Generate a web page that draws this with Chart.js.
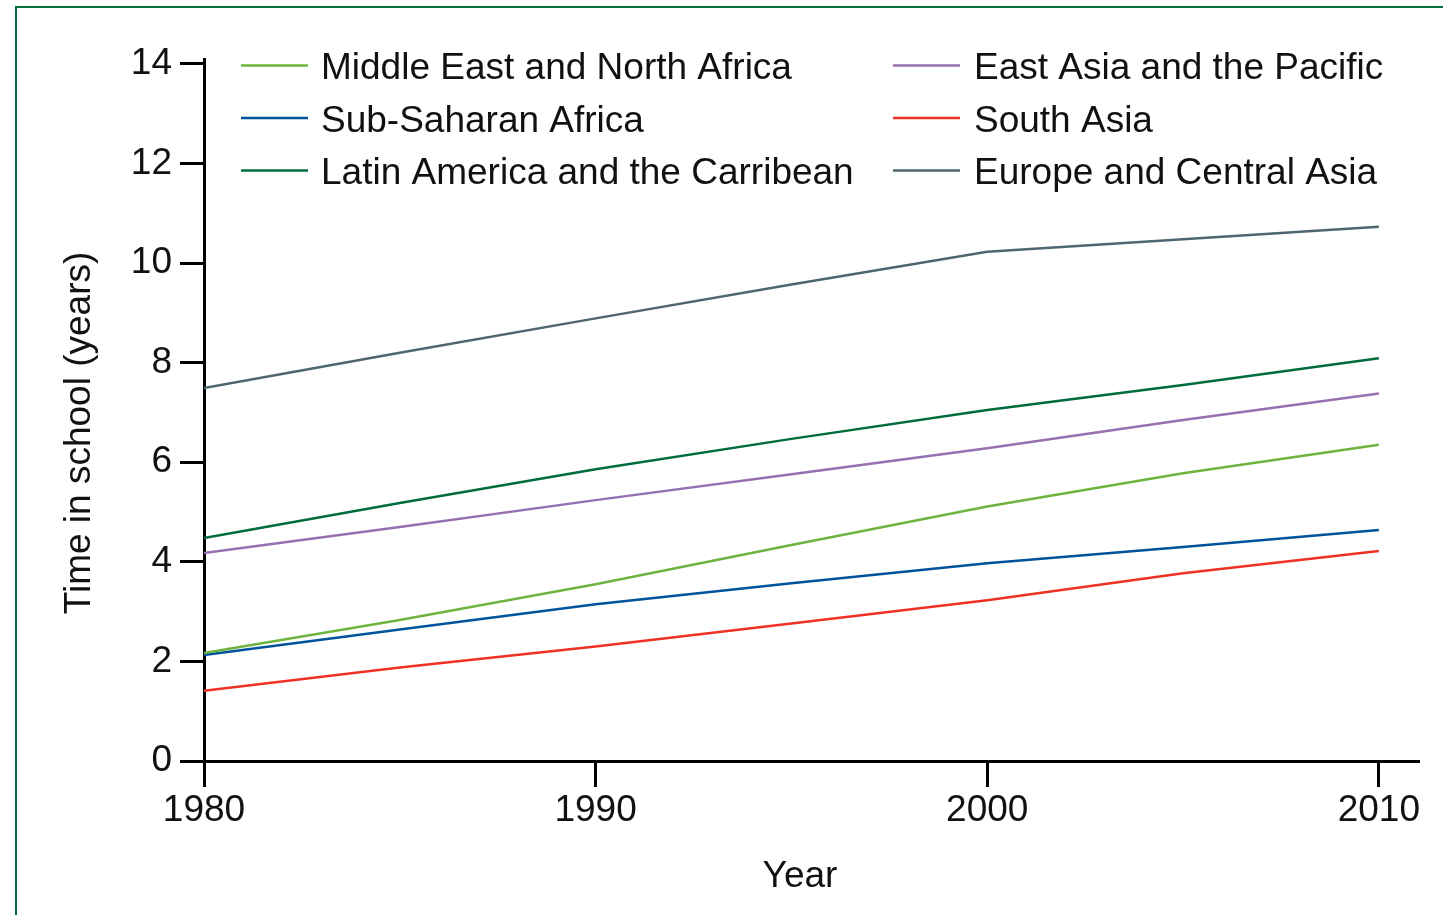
<!DOCTYPE html>
<html>
<head>
<meta charset="utf-8">
<title>Time in school by region</title>
<script src="https://cdn.jsdelivr.net/npm/chart.js@4.4.1/dist/chart.umd.min.js"></script>
<style>
  html, body { margin: 0; padding: 0; background: #ffffff; }
  #wrap { width: 1443px; height: 915px; position: relative; }
  canvas { display: block; }
</style>
</head>
<body>
<div id="wrap"><canvas id="chart" width="1443" height="915"></canvas></div>
<script>
// Average years of schooling by world region, 1980-2010
const years = [1980, 1985, 1990, 1995, 2000, 2005, 2010];
const regionNames = [
  'Middle East and North Africa',
  'Sub-Saharan Africa',
  'Latin America and the Carribean',
  'East Asia and the Pacific',
  'South Asia',
  'Europe and Central Asia'
];
const middleEastNorthAfrica = [2.17, 2.83, 3.55, 4.34, 5.11, 5.78, 6.35];
const subSaharanAfrica      = [2.13, 2.64, 3.15, 3.57, 3.97, 4.30, 4.64];
const latinAmerica          = [4.48, 5.18, 5.86, 6.47, 7.05, 7.55, 8.09];
const eastAsiaPacific       = [4.18, 4.70, 5.24, 5.76, 6.28, 6.85, 7.38];
const southAsia             = [1.41, 1.88, 2.30, 2.76, 3.23, 3.77, 4.22];
const europeCentralAsia     = [7.49, 8.20, 8.89, 9.57, 10.23, 10.48, 10.73];
const yTickValues = [0, 2, 4, 6, 8, 10, 12, 14];
const xTickValues = [1980, 1990, 2000, 2010];
const yAxisTitle = 'Time in school (years)';
const xAxisTitle = 'Year';

const seriesValues = [middleEastNorthAfrica, subSaharanAfrica, latinAmerica,
                      eastAsiaPacific, southAsia, europeCentralAsia];
const lineColors = ['#6cb33f', '#00539b', '#006b3c', '#9570b5', '#ee3124', '#4e6670'];

const FONT_FAMILY = "'Liberation Sans', Arial, sans-serif";
const FONT_SIZE = 37;
const INK = '#111111';

// White page with the green frame at the top and left
const framePlugin = {
  id: 'frame',
  beforeDraw(chart) {
    const ctx = chart.ctx;
    ctx.save();
    ctx.fillStyle = '#ffffff';
    ctx.fillRect(0, 0, chart.width, chart.height);
    ctx.strokeStyle = '#006f3c';
    ctx.lineWidth = 2;
    ctx.strokeRect(16, 7, chart.width + 40, chart.height + 40);
    ctx.restore();
  }
};

// Two-column legend drawn inside the plot area
const legendPlugin = {
  id: 'twoColumnLegend',
  afterDraw(chart) {
    const ctx = chart.ctx;
    const lineStart = [241, 893];
    const textStart = [321, 974];
    ctx.save();
    ctx.font = `${FONT_SIZE}px ${FONT_FAMILY}`;
    ctx.textAlign = 'left';
    ctx.textBaseline = 'alphabetic';
    chart.data.datasets.forEach((ds, i) => {
      const col = Math.floor(i / 3);
      const row = i % 3;
      const baseline = 79 + row * 52.5;
      const ly = baseline - 13.5;
      ctx.strokeStyle = ds.borderColor;
      ctx.lineWidth = 2.5;
      ctx.beginPath();
      ctx.moveTo(lineStart[col], ly);
      ctx.lineTo(lineStart[col] + 67, ly);
      ctx.stroke();
      ctx.fillStyle = INK;
      ctx.fillText(ds.label, textStart[col], baseline);
    });
    ctx.restore();
  }
};

// Axis titles: rotated one on the left, "Year" under the x axis
const axisTitlePlugin = {
  id: 'axisTitles',
  afterDraw(chart) {
    const ctx = chart.ctx;
    ctx.save();
    ctx.font = `${FONT_SIZE}px ${FONT_FAMILY}`;
    ctx.fillStyle = INK;
    ctx.textAlign = 'center';
    ctx.textBaseline = 'middle';
    ctx.fillText(xAxisTitle, 800, 877);
    ctx.translate(80, 433);
    ctx.rotate(-Math.PI / 2);
    ctx.fillText(yAxisTitle, 0, 0);
    ctx.restore();
  }
};

const datasets = regionNames.map((name, i) => ({
  label: name,
  data: years.map((yr, j) => ({ x: yr, y: seriesValues[i][j] })),
  borderColor: lineColors[i],
  backgroundColor: lineColors[i],
  borderWidth: 2.5,
  pointRadius: 0,
  tension: 0,
  fill: false
}));

const axisFont = { family: FONT_FAMILY, size: FONT_SIZE };

new Chart(document.getElementById('chart'), {
  type: 'line',
  data: { datasets },
  options: {
    responsive: false,
    devicePixelRatio: 1,
    animation: false,
    layout: { padding: { top: 59, right: 25, left: 0, bottom: 0 } },
    plugins: {
      legend: { display: false },
      tooltip: { enabled: false }
    },
    scales: {
      x: {
        type: 'linear',
        min: 1980,
        max: 2011,
        afterBuildTicks: s => { s.ticks = xTickValues.map(v => ({ value: v })); },
        afterFit: s => { s.height = 154; },
        ticks: {
          font: axisFont,
          color: INK,
          padding: 2,
          maxRotation: 0,
          callback: v => String(v)
        },
        grid: {
          drawOnChartArea: false,
          drawTicks: true,
          tickLength: 26,
          tickWidth: 3,
          tickColor: '#000000',
          lineWidth: 3,
          color: '#000000'
        },
        border: { display: true, color: '#000000', width: 3 },
        title: { display: false }
      },
      y: {
        min: 0,
        max: 14.1,
        afterBuildTicks: s => { s.ticks = yTickValues.map(v => ({ value: v })); },
        afterFit: s => { s.width = 204; },
        ticks: {
          font: axisFont,
          color: INK,
          padding: 8,
          callback: v => String(v)
        },
        grid: {
          drawOnChartArea: false,
          drawTicks: true,
          tickLength: 24,
          tickWidth: 3,
          tickColor: '#000000',
          lineWidth: 3,
          color: '#000000'
        },
        border: { display: true, color: '#000000', width: 3 }
      }
    }
  },
  plugins: [framePlugin, legendPlugin, axisTitlePlugin]
});
</script>
</body>
</html>
